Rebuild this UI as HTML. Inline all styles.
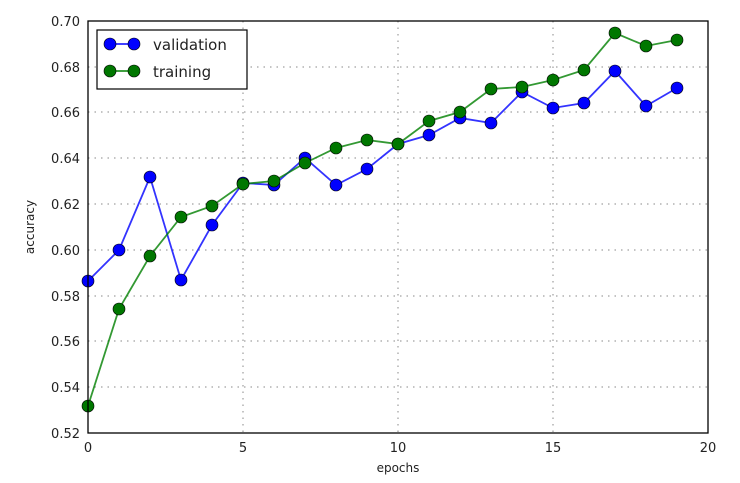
<!DOCTYPE html>
<html><head><style>body{margin:0;background:#fff}svg{display:block}text{font-family:"DejaVu Sans","Liberation Sans",sans-serif;fill:#222}</style></head><body>
<svg width="740" height="483" xmlns="http://www.w3.org/2000/svg">
<g stroke="#888" stroke-dasharray="1.5,5" stroke-width="1">
<line x1="243" y1="21" x2="243" y2="433"/><line x1="398" y1="21" x2="398" y2="433"/><line x1="553" y1="21" x2="553" y2="433"/>
<line x1="88" y1="387" x2="708" y2="387"/><line x1="88" y1="341" x2="708" y2="341"/><line x1="88" y1="296" x2="708" y2="296"/><line x1="88" y1="250" x2="708" y2="250"/><line x1="88" y1="204" x2="708" y2="204"/><line x1="88" y1="158" x2="708" y2="158"/><line x1="88" y1="112" x2="708" y2="112"/><line x1="88" y1="67" x2="708" y2="67"/>
</g>
<polyline fill="none" stroke="#0000ff" stroke-width="1.8" stroke-opacity="0.8" points="88,281 119,250 150,177 181,280 212,225 243,183 274,185 305,158 336,185 367,169 398,144 429,135 460,118 491,123 522,92 553,108 584,103 615,71 646,106 677,88"/>
<polyline fill="none" stroke="#008000" stroke-width="1.8" stroke-opacity="0.8" points="88,406 119,309 150,256 181,217 212,206 243,184 274,181 305,163 336,148 367,140 398,144 429,121 460,112 491,89 522,87 553,80 584,70 615,33 646,46 677,40"/>
<g fill="#0000ff" stroke="#000" stroke-width="0.6">
<circle cx="88" cy="281" r="6"/><circle cx="119" cy="250" r="6"/><circle cx="150" cy="177" r="6"/><circle cx="181" cy="280" r="6"/><circle cx="212" cy="225" r="6"/><circle cx="243" cy="183" r="6"/><circle cx="274" cy="185" r="6"/><circle cx="305" cy="158" r="6"/><circle cx="336" cy="185" r="6"/><circle cx="367" cy="169" r="6"/><circle cx="398" cy="144" r="6"/><circle cx="429" cy="135" r="6"/><circle cx="460" cy="118" r="6"/><circle cx="491" cy="123" r="6"/><circle cx="522" cy="92" r="6"/><circle cx="553" cy="108" r="6"/><circle cx="584" cy="103" r="6"/><circle cx="615" cy="71" r="6"/><circle cx="646" cy="106" r="6"/><circle cx="677" cy="88" r="6"/>
</g>
<g fill="#007700" stroke="#000" stroke-width="0.6">
<circle cx="88" cy="406" r="6"/><circle cx="119" cy="309" r="6"/><circle cx="150" cy="256" r="6"/><circle cx="181" cy="217" r="6"/><circle cx="212" cy="206" r="6"/><circle cx="243" cy="184" r="6"/><circle cx="274" cy="181" r="6"/><circle cx="305" cy="163" r="6"/><circle cx="336" cy="148" r="6"/><circle cx="367" cy="140" r="6"/><circle cx="398" cy="144" r="6"/><circle cx="429" cy="121" r="6"/><circle cx="460" cy="112" r="6"/><circle cx="491" cy="89" r="6"/><circle cx="522" cy="87" r="6"/><circle cx="553" cy="80" r="6"/><circle cx="584" cy="70" r="6"/><circle cx="615" cy="33" r="6"/><circle cx="646" cy="46" r="6"/><circle cx="677" cy="40" r="6"/>
</g>
<rect x="88" y="21" width="620" height="412" fill="none" stroke="#000" stroke-width="1.3"/>
<g font-size="13" text-anchor="end">
<text x="80" y="438">0.52</text><text x="80" y="392">0.54</text><text x="80" y="346">0.56</text><text x="80" y="301">0.58</text><text x="80" y="255">0.60</text><text x="80" y="209">0.62</text><text x="80" y="163">0.64</text><text x="80" y="117">0.66</text><text x="80" y="72">0.68</text><text x="80" y="26">0.70</text>
</g>
<g font-size="13" text-anchor="middle">
<text x="88" y="452">0</text><text x="243" y="452">5</text><text x="398" y="452">10</text><text x="553" y="452">15</text><text x="708" y="452">20</text>
<text x="398" y="472" font-size="12">epochs</text>
<text transform="translate(34,227) rotate(-90)" font-size="12">accuracy</text>
</g>
<rect x="97" y="30" width="150" height="59" fill="#fff" stroke="#000" stroke-width="1.2"/>
<line x1="110" y1="44" x2="134" y2="44" stroke="#0000ff" stroke-width="1.5"/>
<circle cx="110" cy="44" r="6" fill="#0000ff" stroke="#000" stroke-width="0.6"/><circle cx="134" cy="44" r="6" fill="#0000ff" stroke="#000" stroke-width="0.6"/>
<line x1="110" y1="71" x2="134" y2="71" stroke="#008000" stroke-width="1.5"/>
<circle cx="110" cy="71" r="6" fill="#007700" stroke="#000" stroke-width="0.6"/><circle cx="134" cy="71" r="6" fill="#007700" stroke="#000" stroke-width="0.6"/>
<text x="153" y="50" font-size="15">validation</text>
<text x="153" y="77" font-size="15">training</text>
</svg>
</body></html>
